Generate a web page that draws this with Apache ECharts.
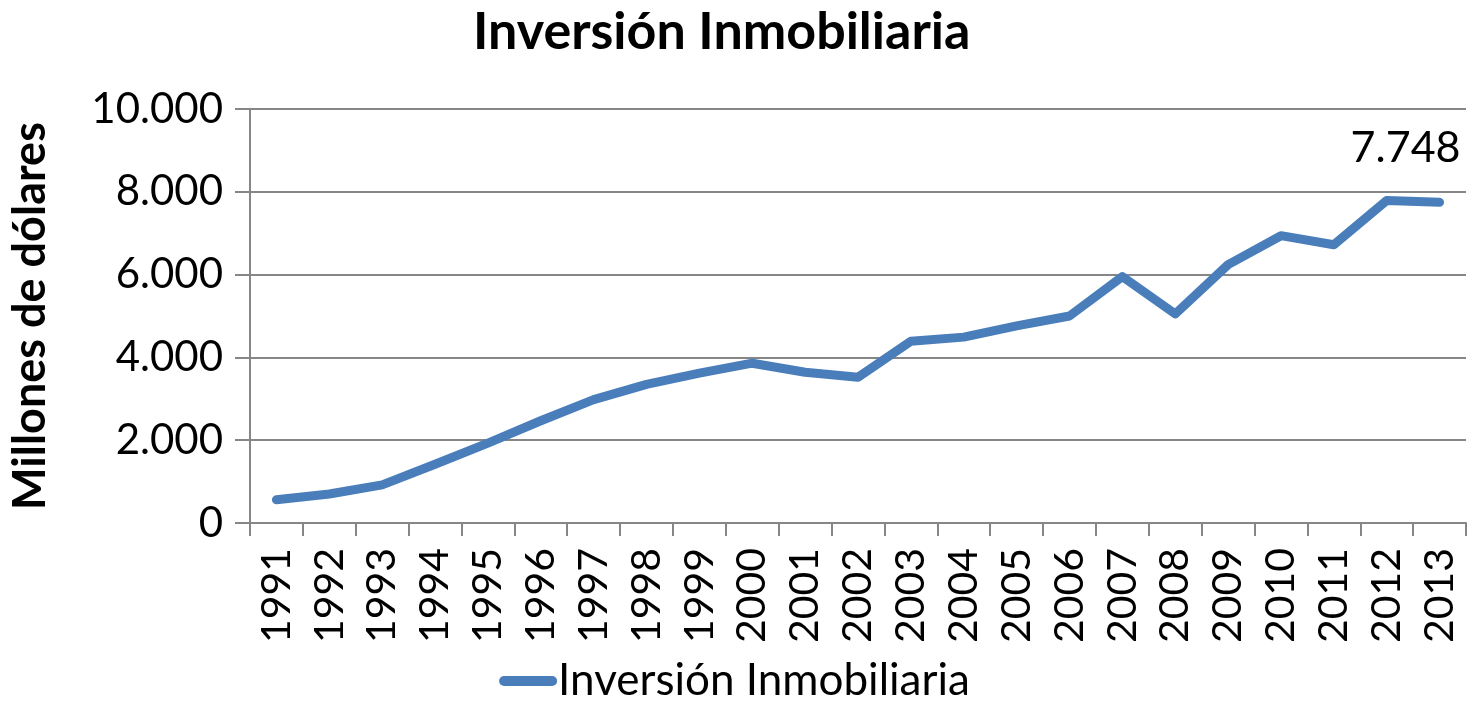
<!DOCTYPE html>
<html>
<head>
	<title>Inversión Inmobiliaria</title>
	<meta charset="utf-8">
	<script src="https://cdn.jsdelivr.net/npm/echarts@6/dist/echarts.min.js"></script>
	<style type="text/css">
		html, body { margin: 0; padding: 0; background: #fff; }
		#chart { width: 1469px; height: 708px; }
	</style>
</head>
<body>
<div id="chart"></div>
<script type="text/javascript">

	// datos
	var years = ['1991', '1992', '1993', '1994', '1995', '1996', '1997', '1998', '1999', '2000', '2001', '2002',
		'2003', '2004', '2005', '2006', '2007', '2008', '2009', '2010', '2011', '2012', '2013'];
	var inversion = [560, 700, 920, 1420, 1930, 2470, 2980, 3350, 3620, 3860, 3640, 3520,
		4390, 4490, 4760, 5000, 5950, 5050, 6240, 6940, 6720, 7790, 7748];
	var seriesName = 'Inversión Inmobiliaria';

	// formato con punto de miles
	function miles(v) {
		return String(Math.round(v)).replace(/\B(?=(\d{3})+(?!\d))/g, '.');
	}

	var font = 'Lato';
	var gris = '#868686';

	var myChart = echarts.init(document.getElementById('chart'));
	var option = {
		textStyle: { fontFamily: font },
		title: {
			text: 'Inversión Inmobiliaria',
			left: 468,
			top: 1,
			textStyle: { fontSize: 52, fontWeight: 'bold', color: '#000', fontFamily: font }
		},
		legend: {
			bottom: 0,
			left: 'center',
			itemWidth: 58,
			itemHeight: 10,
			itemGap: 4,
			textStyle: { fontSize: 44, color: '#000', fontFamily: font, padding: [0, 0, 0, -4] },
			data: [{ name: seriesName, icon: 'path://M5,0 L53,0 A5,5 0 0 1 53,10 L5,10 A5,5 0 0 1 5,0 Z' }]
		},
		grid: {
			left: 245,
			right: 3,
			top: 109,
			bottom: 185
		},
		xAxis: {
			type: 'category',
			data: years,
			boundaryGap: true,
			axisLine: { lineStyle: { color: gris, width: 2 } },
			axisTick: { show: true, length: 13, lineStyle: { color: gris, width: 2 } },
			axisLabel: { rotate: 90, interval: 0, margin: 25, fontSize: 41, color: '#000', fontFamily: font }
		},
		yAxis: {
			type: 'value',
			min: 0,
			max: 10000,
			interval: 2000,
			name: 'Millones de dólares',
			nameLocation: 'middle',
			nameGap: 197,
			nameTextStyle: { fontSize: 45, fontWeight: 'bold', color: '#000', fontFamily: font },
			axisLine: { show: true, lineStyle: { color: gris, width: 2 } },
			axisTick: { show: true, length: 15, lineStyle: { color: gris, width: 2 } },
			splitLine: { lineStyle: { color: gris, width: 2 } },
			axisLabel: { margin: 27, fontSize: 42, color: '#000', fontFamily: font, formatter: miles }
		},
		series: [{
			name: seriesName,
			type: 'line',
			data: inversion,
			symbol: 'none',
			lineStyle: { color: '#4A7EBB', width: 9, cap: 'round', join: 'round' },
			itemStyle: { color: '#4A7EBB' },
			label: { show: false },
			markPoint: {
				symbol: 'circle',
				symbolSize: 0,
				data: [{ coord: [years.length - 1, inversion[inversion.length - 1]], value: inversion[inversion.length - 1] }],
				label: {
					show: true,
					position: 'top',
					offset: [-34, -28],
					fontSize: 43,
					color: '#000',
					fontFamily: font,
					formatter: function(p) { return miles(p.value); }
				}
			}
		}],
		animation: false
	};
	myChart.setOption(option);

	window.onresize = function() {
		myChart.resize();
	};
</script>
</body>
</html>
